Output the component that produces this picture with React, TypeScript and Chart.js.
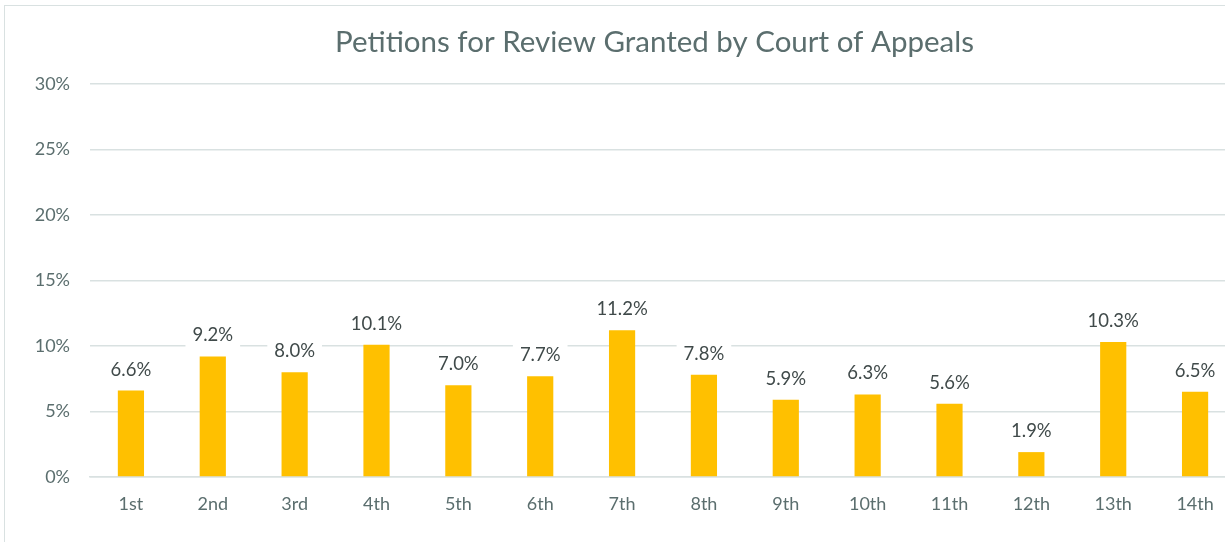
import { useEffect, useRef } from "react";
import { Chart, registerables } from "chart.js";

Chart.register(...registerables);

const categories = ["1st", "2nd", "3rd", "4th", "5th", "6th", "7th", "8th", "9th", "10th", "11th", "12th", "13th", "14th"];
const grantedPct = [6.6, 9.2, 8.0, 10.1, 7.0, 7.7, 11.2, 7.8, 5.9, 6.3, 5.6, 1.9, 10.3, 6.5];
const yMin = 0;
const yMax = 30;
const yStep = 5;
const titleText = "Petitions for Review Granted by Court of Appeals";

const FONT = "Lato, 'Open Sans', sans-serif";
const BAR = "#FFC000";
const GRID = "#D9E1E1";
const AXIS_TEXT = "#5B6E6E";
const LABEL_TEXT = "#404A4A";

export default function App() {
  const ref = useRef<HTMLCanvasElement>(null);

  useEffect(() => {
    if (!ref.current) return;

    const titlePlugin = {
      id: "customTitle",
      afterDraw(chart: any) {
        const ctx = chart.ctx;
        ctx.save();
        ctx.font = `29.5px ${FONT}`;
        ctx.fillStyle = AXIS_TEXT;
        ctx.textAlign = "center";
        ctx.textBaseline = "middle";
        ctx.fillText(titleText, 654.5, 42);
        ctx.restore();
      },
    };

    const labelPlugin = {
      id: "barLabels",
      beforeDatasetsDraw(chart: any) {
        const ctx = chart.ctx;
        const meta = chart.getDatasetMeta(0);
        ctx.save();
        ctx.font = `18.5px ${FONT}`;
        ctx.fillStyle = "#FFFFFF";
        meta.data.forEach((bar: any, i: number) => {
          const text = grantedPct[i].toFixed(1) + "%";
          const w = ctx.measureText(text).width;
          const base = bar.y - 15;
          ctx.fillRect(bar.x - w / 2 - 7, base - 21, w + 14, 29);
        });
        ctx.restore();
      },
      afterDatasetsDraw(chart: any) {
        const ctx = chart.ctx;
        const meta = chart.getDatasetMeta(0);
        ctx.save();
        ctx.font = `18.5px ${FONT}`;
        ctx.fillStyle = LABEL_TEXT;
        ctx.textAlign = "center";
        ctx.textBaseline = "alphabetic";
        meta.data.forEach((bar: any, i: number) => {
          const text = grantedPct[i].toFixed(1) + "%";
          ctx.fillText(text, bar.x, bar.y - 15);
        });
        ctx.restore();
      },
    };

    const chart = new Chart(ref.current, {
      type: "bar",
      data: {
        labels: categories,
        datasets: [
          {
            data: grantedPct,
            backgroundColor: BAR,
            borderWidth: 0,
            barPercentage: 0.64,
            categoryPercentage: 0.5,
          },
        ],
      },
      options: {
        responsive: false,
        animation: false,
        layout: { padding: { top: 84, right: 64, bottom: 25, left: 0 } },
        plugins: {
          legend: { display: false },
          title: { display: false },
          tooltip: { enabled: false },
        },
        scales: {
          x: {
            grid: { display: false, drawTicks: false },
            border: { display: true, color: GRID, width: 1.5 },
            ticks: {
              color: AXIS_TEXT,
              font: { family: FONT, size: 18 },
              padding: 16,
              maxRotation: 0,
            },
            afterFit(scale: any) {
              scale.height = 40;
            },
          },
          y: {
            min: yMin,
            max: yMax,
            grid: { color: GRID, lineWidth: 1.5, drawTicks: false },
            border: { display: false },
            ticks: {
              stepSize: yStep,
              color: AXIS_TEXT,
              font: { family: FONT, size: 18 },
              padding: 20,
              callback: (v: any) => `${v}%`,
            },
            afterFit(scale: any) {
              scale.width = 90;
            },
          },
        },
      },
      plugins: [labelPlugin, titlePlugin],
    });

    return () => chart.destroy();
  }, []);

  return (
    <div style={{ position: "fixed", left: 0, top: 0, width: 1300, height: 542, background: "#fff", overflow: "hidden" }}>
      <canvas ref={ref} width={1300} height={542} style={{ position: "absolute", left: 0, top: 0 }} />
      <div
        style={{
          position: "absolute",
          left: 4,
          top: 5,
          width: 1400,
          height: 700,
          borderTop: `1.5px solid ${GRID}`,
          borderLeft: `1.5px solid ${GRID}`,
          pointerEvents: "none",
        }}
      />
    </div>
  );
}
